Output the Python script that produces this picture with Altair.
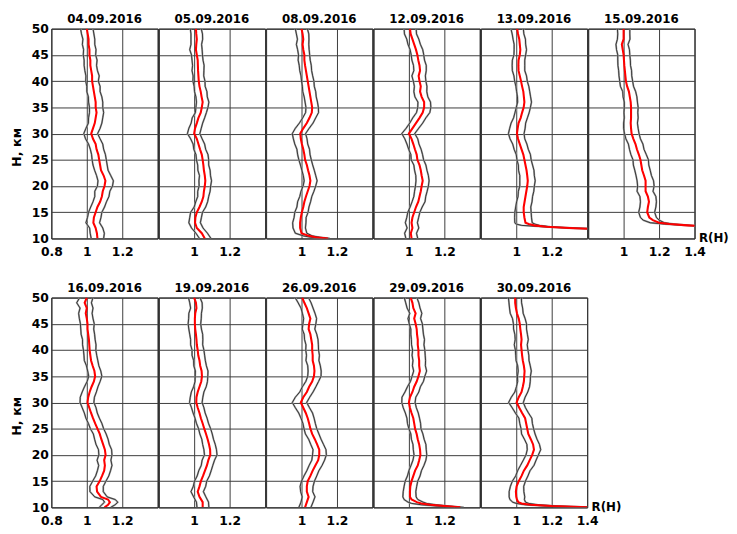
import altair as alt
import pandas as pd

# ---------------- data ----------------
TITLES = ["04.09.2016", "05.09.2016", "08.09.2016", "12.09.2016", "13.09.2016", "15.09.2016",
          "16.09.2016", "19.09.2016", "26.09.2016", "29.09.2016", "30.09.2016"]

H_STD = [10, 11, 12, 13, 14, 15, 16, 17, 18, 19, 20, 21, 22, 23, 24, 25, 26, 27, 28, 29, 30,
         31, 32, 33, 34, 35, 36, 37, 38, 39, 40, 41, 42, 43, 44, 45, 46, 47, 48, 49, 50]

# 04.09.2016
R_0409 = [1.060, 1.057, 1.050, 1.037, 1.040, 1.050, 1.060, 1.075, 1.085, 1.090, 1.100, 1.105, 1.095, 1.080, 1.075, 1.070, 1.065, 1.055, 1.050, 1.035, 1.025, 1.035, 1.045, 1.050, 1.055, 1.050, 1.050, 1.045, 1.040, 1.035, 1.030, 1.030, 1.025, 1.020, 1.020, 1.015, 1.015, 1.010, 1.010, 1.005, 1.000]
DLO_0409 = [35, 38, 34, 42, 36, 40, 38, 40, 40, 45, 40, 42, 40, 36, 40, 40, 38, 35, 40, 42, 42, 40, 36, 40, 40, 35, 40, 36, 40, 35, 36, 35, 36, 35, 35, 35, 33, 35, 32, 35, 35]
DHI_0409 = [35, 42, 40, 35, 40, 35, 40, 36, 40, 40, 45, 45, 40, 40, 40, 40, 40, 40, 40, 40, 36, 40, 40, 40, 40, 40, 40, 40, 35, 40, 35, 40, 35, 35, 38, 35, 37, 35, 35, 35, 35]

# 05.09.2016
R_0509 = [1.060, 1.043, 1.015, 1.005, 1.007, 1.015, 1.030, 1.043, 1.052, 1.055, 1.060, 1.063, 1.060, 1.055, 1.052, 1.048, 1.043, 1.033, 1.024, 1.015, 1.000, 1.005, 1.015, 1.024, 1.037, 1.043, 1.048, 1.042, 1.037, 1.030, 1.026, 1.024, 1.022, 1.021, 1.020, 1.015, 1.010, 1.012, 1.015, 1.012, 1.010]
DLO_0509 = [30, 33, 30, 35, 32, 35, 30, 34, 32, 35, 32, 36, 30, 34, 32, 35, 33, 35, 30, 35, 38, 35, 32, 35, 30, 33, 35, 32, 35, 30, 33, 30, 34, 30, 32, 30, 35, 30, 33, 30, 32]
DHI_0509 = [35, 32, 35, 30, 34, 32, 35, 33, 30, 35, 33, 35, 32, 35, 30, 34, 35, 32, 35, 30, 32, 35, 33, 35, 32, 35, 35, 32, 35, 32, 35, 30, 33, 35, 30, 32, 35, 30, 33, 35, 30]

# 08.09.2016
H_0809 = [10, 10.25, 10.5, 11, 12, 13, 14, 15, 16, 17, 18, 19, 20, 21, 22, 23, 24, 25, 26, 27, 28, 29, 30,
          31, 32, 33, 34, 35, 36, 37, 38, 39, 40, 41, 42, 43, 44, 45, 46, 47, 48, 49, 50]
R_0809 = [1.15, 1.08, 1.04, 1.000, 0.992, 0.992, 0.996, 1.002, 1.010, 1.016, 1.025, 1.035, 1.045, 1.050, 1.045, 1.037, 1.030, 1.020, 1.016, 1.010, 1.002, 0.996, 0.993, 1.010, 1.030, 1.045, 1.058, 1.060, 1.055, 1.050, 1.045, 1.040, 1.035, 1.030, 1.025, 1.020, 1.016, 1.016, 1.010, 1.006, 1.010, 1.006, 1.000]
DLO_0809 = [10, 30, 30, 35, 40, 42, 38, 40, 36, 38, 35, 38, 36, 35, 35, 35, 36, 35, 38, 36, 40, 42, 45, 45, 42, 38, 35, 35, 35, 35, 38, 35, 35, 33, 35, 33, 35, 33, 32, 35, 33, 35, 35]
DHI_0809 = [10, 20, 20, 30, 30, 33, 30, 35, 32, 35, 33, 35, 35, 38, 35, 35, 33, 35, 32, 35, 33, 35, 30, 33, 35, 35, 38, 35, 35, 33, 35, 32, 35, 33, 32, 35, 33, 30, 33, 35, 32, 35, 33]

# 12.09.2016
R_1209 = [1.015, 1.011, 1.020, 1.015, 1.020, 1.030, 1.040, 1.053, 1.060, 1.067, 1.072, 1.078, 1.072, 1.067, 1.060, 1.048, 1.044, 1.034, 1.025, 1.015, 1.000, 1.020, 1.040, 1.060, 1.078, 1.086, 1.086, 1.072, 1.063, 1.067, 1.060, 1.055, 1.063, 1.060, 1.053, 1.048, 1.040, 1.030, 1.020, 1.010, 1.006]
DLO_1209 = [32, 35, 30, 35, 32, 36, 33, 35, 32, 35, 35, 38, 33, 35, 32, 35, 33, 35, 36, 38, 40, 36, 35, 38, 35, 36, 35, 38, 35, 36, 35, 38, 35, 34, 36, 35, 33, 35, 32, 35, 33]
DHI_1209 = [35, 32, 36, 33, 35, 32, 35, 38, 35, 36, 38, 36, 38, 35, 36, 35, 33, 35, 32, 35, 33, 35, 38, 36, 40, 38, 36, 35, 38, 35, 36, 38, 35, 38, 35, 36, 38, 35, 36, 33, 35]

# 13.09.2016
H_1309 = [11.5, 11.75, 12, 12.25, 12.5, 12.75, 13, 14, 15, 16, 17, 18, 19, 20, 21, 22, 23, 24, 25, 26, 27, 28, 29, 30,
          31, 32, 33, 34, 35, 36, 37, 38, 39, 40, 41, 42, 43, 44, 45, 46, 47, 48, 49, 50]
R_1309 = [1.80, 1.50, 1.30, 1.17, 1.10, 1.07, 1.052, 1.046, 1.042, 1.042, 1.047, 1.052, 1.057, 1.062, 1.065, 1.062, 1.058, 1.052, 1.046, 1.040, 1.030, 1.020, 1.010, 1.004, 1.008, 1.013, 1.025, 1.033, 1.042, 1.046, 1.043, 1.040, 1.033, 1.027, 1.020, 1.013, 1.012, 1.013, 1.020, 1.023, 1.020, 1.017, 1.010, 1.005]
DLO_1309 = [20, 20, 20, 30, 70, 70, 60, 55, 50, 45, 45, 42, 45, 42, 45, 42, 45, 40, 42, 40, 42, 40, 45, 48, 45, 42, 40, 40, 42, 38, 36, 38, 35, 36, 33, 35, 35, 35, 33, 35, 32, 35, 33, 35]
DHI_1309 = [20, 20, 20, 20, 30, 35, 38, 40, 42, 40, 42, 40, 42, 40, 42, 40, 42, 40, 38, 40, 38, 40, 38, 40, 42, 40, 38, 40, 38, 40, 38, 36, 38, 35, 38, 35, 36, 35, 33, 35, 33, 35, 33, 35]

# 15.09.2016
H_1509 = [12, 12.25, 12.5, 12.75, 13, 13.5, 14, 15, 16, 17, 18, 19, 20, 21, 22, 23, 24, 25, 26, 27, 28, 29, 30,
          31, 32, 33, 34, 35, 36, 37, 38, 39, 40, 41, 42, 43, 44, 45, 46, 47, 48, 49, 50]
R_1509 = [1.70, 1.50, 1.36, 1.26, 1.20, 1.165, 1.145, 1.133, 1.137, 1.143, 1.137, 1.124, 1.124, 1.124, 1.115, 1.105, 1.100, 1.095, 1.086, 1.075, 1.067, 1.055, 1.045, 1.042, 1.040, 1.042, 1.042, 1.042, 1.040, 1.035, 1.030, 1.020, 1.013, 1.010, 1.007, 1.004, 1.002, 1.000, 0.995, 0.990, 1.000, 1.000, 1.000]
DLO_1509 = [10, 10, 20, 30, 50, 55, 50, 48, 45, 48, 45, 48, 45, 48, 45, 42, 45, 42, 45, 42, 40, 42, 40, 42, 40, 38, 40, 38, 36, 38, 35, 38, 35, 36, 35, 36, 35, 33, 35, 33, 35, 33, 35]
DHI_1509 = [10, 10, 20, 20, 30, 35, 40, 42, 45, 42, 45, 42, 48, 45, 42, 45, 42, 45, 42, 40, 42, 40, 42, 40, 38, 40, 38, 40, 38, 40, 38, 36, 38, 36, 38, 35, 36, 35, 38, 35, 36, 35, 35]

# 16.09.2016
H_1609 = [10, 10.5, 11, 11.5, 12, 13, 14, 15, 16, 17, 18, 19, 20, 21, 22, 23, 24, 25, 26, 27, 28, 29, 30,
          31, 32, 33, 34, 35, 36, 37, 38, 39, 40, 41, 42, 43, 44, 45, 46, 47, 48, 49, 50]
R_1609 = [1.100, 1.120, 1.130, 1.120, 1.080, 1.058, 1.055, 1.073, 1.086, 1.098, 1.102, 1.098, 1.106, 1.102, 1.092, 1.082, 1.073, 1.060, 1.047, 1.035, 1.024, 1.014, 1.004, 1.008, 1.016, 1.027, 1.040, 1.047, 1.043, 1.033, 1.024, 1.020, 1.016, 1.014, 1.012, 1.008, 1.004, 1.004, 1.000, 0.994, 1.000, 0.988, 1.000]
DLO_1609 = [30, 35, 30, 30, 35, 40, 38, 40, 36, 38, 35, 40, 38, 36, 40, 38, 36, 40, 38, 40, 38, 40, 42, 45, 42, 40, 38, 36, 38, 35, 38, 36, 35, 38, 36, 40, 38, 40, 42, 40, 38, 45, 40]
DHI_1609 = [35, 40, 45, 40, 35, 35, 38, 35, 38, 36, 40, 38, 36, 38, 35, 38, 36, 35, 38, 36, 35, 38, 36, 35, 38, 36, 35, 38, 36, 35, 38, 36, 35, 38, 35, 36, 35, 38, 35, 36, 35, 38, 35]

# 19.09.2016
R_1909 = [1.048, 1.048, 1.030, 1.020, 1.030, 1.038, 1.050, 1.061, 1.072, 1.080, 1.091, 1.090, 1.084, 1.076, 1.067, 1.057, 1.048, 1.038, 1.030, 1.020, 1.012, 1.013, 1.020, 1.030, 1.040, 1.044, 1.042, 1.034, 1.030, 1.023, 1.020, 1.015, 1.013, 1.010, 1.006, 1.004, 1.004, 1.006, 1.013, 1.010, 1.000]
DLO_1909 = [32, 35, 33, 38, 35, 36, 33, 35, 32, 35, 33, 35, 36, 33, 35, 32, 35, 33, 36, 35, 38, 35, 36, 33, 35, 38, 35, 36, 33, 35, 32, 35, 33, 35, 36, 38, 35, 36, 33, 35, 32]
DHI_1909 = [35, 33, 36, 32, 35, 33, 36, 35, 33, 35, 38, 36, 35, 33, 35, 36, 33, 35, 32, 35, 33, 36, 35, 38, 35, 33, 36, 35, 33, 36, 35, 33, 36, 38, 35, 33, 36, 35, 33, 35, 33]

# 26.09.2016
R_2609 = [1.020, 1.030, 1.040, 1.030, 1.030, 1.035, 1.050, 1.063, 1.078, 1.094, 1.100, 1.100, 1.088, 1.075, 1.060, 1.050, 1.043, 1.035, 1.024, 1.010, 0.996, 1.010, 1.030, 1.043, 1.060, 1.070, 1.073, 1.070, 1.063, 1.063, 1.060, 1.060, 1.055, 1.050, 1.040, 1.043, 1.050, 1.040, 1.030, 1.016, 1.004]
DLO_2609 = [35, 33, 36, 35, 38, 35, 36, 33, 35, 36, 38, 35, 36, 35, 38, 36, 35, 38, 40, 45, 48, 45, 40, 38, 36, 35, 36, 35, 38, 35, 36, 35, 38, 35, 36, 35, 38, 35, 33, 35, 40]
DHI_2609 = [33, 35, 36, 33, 35, 38, 36, 35, 38, 36, 40, 38, 36, 35, 38, 36, 35, 36, 38, 35, 33, 36, 35, 38, 36, 40, 38, 36, 35, 38, 36, 35, 38, 36, 35, 38, 35, 36, 35, 38, 35]

# 29.09.2016
H_2909 = [10, 10.25, 10.5, 10.75, 11, 11.5, 12, 13, 14, 15, 16, 17, 18, 19, 20, 21, 22, 23, 24, 25, 26, 27, 28, 29, 30,
          31, 32, 33, 34, 35, 36, 37, 38, 39, 40, 41, 42, 43, 44, 45, 46, 47, 48, 49, 50]
R_2909 = [1.29, 1.20, 1.12, 1.07, 1.045, 1.015, 1.006, 1.006, 1.008, 1.015, 1.025, 1.035, 1.050, 1.058, 1.065, 1.063, 1.058, 1.050, 1.044, 1.035, 1.030, 1.025, 1.015, 1.006, 1.000, 1.006, 1.020, 1.030, 1.044, 1.054, 1.062, 1.058, 1.058, 1.054, 1.054, 1.050, 1.050, 1.046, 1.044, 1.038, 1.030, 1.038, 1.025, 1.020, 1.010]
DLO_2909 = [30, 40, 50, 55, 50, 42, 40, 38, 35, 36, 33, 35, 38, 35, 36, 38, 35, 36, 33, 35, 38, 36, 35, 38, 40, 45, 42, 38, 35, 36, 35, 38, 35, 36, 33, 35, 36, 35, 33, 36, 35, 33, 35, 38, 36]
DHI_2909 = [20, 30, 30, 30, 35, 35, 35, 33, 36, 35, 38, 36, 35, 38, 36, 35, 38, 36, 35, 33, 36, 35, 38, 36, 35, 33, 36, 35, 38, 36, 38, 35, 36, 38, 36, 35, 38, 36, 35, 38, 36, 35, 38, 36, 35]

# 30.09.2016
H_3009 = [10, 10.25, 10.5, 10.75, 11, 11.5, 12, 13, 14, 15, 16, 17, 18, 19, 20, 21, 22, 23, 24, 25, 26, 27, 28, 29, 30,
          31, 32, 33, 34, 35, 36, 37, 38, 39, 40, 41, 42, 43, 44, 45, 46, 47, 48, 49, 50]
R_3009 = [1.42, 1.20, 1.08, 1.03, 1.012, 1.004, 1.000, 0.998, 1.002, 1.014, 1.030, 1.043, 1.062, 1.076, 1.090, 1.100, 1.095, 1.082, 1.068, 1.062, 1.056, 1.050, 1.033, 1.017, 1.002, 1.014, 1.030, 1.037, 1.043, 1.045, 1.047, 1.043, 1.037, 1.033, 1.030, 1.027, 1.030, 1.027, 1.023, 1.020, 1.014, 1.004, 0.998, 0.994, 0.994]
DLO_3009 = [10, 30, 30, 30, 32, 40, 40, 38, 35, 36, 33, 35, 38, 36, 35, 38, 35, 36, 38, 35, 36, 35, 38, 40, 45, 42, 38, 36, 35, 38, 36, 35, 38, 36, 35, 38, 36, 35, 38, 36, 35, 38, 36, 35, 38]
DHI_3009 = [10, 40, 40, 40, 40, 42, 48, 45, 40, 38, 36, 35, 38, 36, 35, 38, 36, 35, 38, 36, 35, 38, 36, 35, 38, 36, 35, 38, 36, 35, 38, 36, 35, 38, 36, 35, 38, 36, 35, 38, 36, 35, 38, 36, 35]

HEIGHTS = [H_STD, H_STD, H_0809, H_STD, H_1309, H_1509, H_1609, H_STD, H_STD, H_2909, H_3009]
RVALS = [R_0409, R_0509, R_0809, R_1209, R_1309, R_1509, R_1609, R_1909, R_2609, R_2909, R_3009]
DLOS = [DLO_0409, DLO_0509, DLO_0809, DLO_1209, DLO_1309, DLO_1509, DLO_1609, DLO_1909, DLO_2609, DLO_2909, DLO_3009]
DHIS = [DHI_0409, DHI_0509, DHI_0809, DHI_1209, DHI_1309, DHI_1509, DHI_1609, DHI_1909, DHI_2609, DHI_2909, DHI_3009]

X_TICKS = [0.8, 1.0, 1.2, 1.4]
Y_TICKS = [10, 15, 20, 25, 30, 35, 40, 45, 50]

PW, PH = 108, 213
FONT = "DejaVu Sans"
LABEL_SIZE = 12.5


def panel(i, first, last):
    H, R, dlo, dhi = HEIGHTS[i], RVALS[i], DLOS[i], DHIS[i]
    n = len(H)
    assert len(R) == n and len(dlo) == n and len(dhi) == n, (TITLES[i], n, len(R), len(dlo), len(dhi))
    lo = [r - d / 1000.0 for r, d in zip(R, dlo)]
    hi = [r + d / 1000.0 for r, d in zip(R, dhi)]
    df = pd.DataFrame({
        "H": list(H) * 3,
        "v": list(R) + lo + hi,
        "s": ["R"] * n + ["lo"] * n + ["hi"] * n,
    })
    if first:
        lexpr = "datum.value < 1.3 ? datum.label : ''"
    elif last:
        lexpr = "datum.value > 0.9 ? datum.label : ''"
    else:
        lexpr = "(datum.value > 0.9 && datum.value < 1.3) ? datum.label : ''"
    xaxis_kw = dict(values=X_TICKS, format="~g", labelExpr=lexpr, labelFlush=False,
                    labelOverlap=False, labelPadding=7, grid=True)
    if last:
        xaxis_kw.update(title="R(H)", titleX=PW + 4, titleY=-1, titleAlign="left",
                        titleBaseline="middle", titleAngle=0, titleFontSize=12)
    else:
        xaxis_kw.update(title=None)
    if first:
        yaxis = alt.Axis(values=Y_TICKS, grid=True, title="H, км", labelPadding=3,
                         titlePadding=8, titleY=120, titleFontSize=13)
    else:
        yaxis = alt.Axis(values=Y_TICKS, grid=True, labels=False, title=None)
    base = alt.Chart(df).encode(
        x=alt.X("v:Q", scale=alt.Scale(domain=[0.8, 1.4], nice=False, zero=False),
                axis=alt.Axis(**xaxis_kw)),
        y=alt.Y("H:Q", scale=alt.Scale(domain=[10, 50], nice=False, zero=False), axis=yaxis),
        order=alt.Order("H:Q"),
    )
    band = base.transform_filter("datum.s != 'R'")
    halo = band.mark_line(color="#a6a6a6", strokeWidth=1.9, clip=True).encode(detail="s:N")
    core = band.mark_line(color="#1a1a1a", strokeWidth=0.8, clip=True).encode(detail="s:N")
    red = base.transform_filter("datum.s == 'R'").mark_line(color="#ff0000", strokeWidth=2.1, clip=True)
    # the first panel's "50" label sticks up above the plot by half a label height
    toff = 3 - LABEL_SIZE / 2 if first else 3
    return alt.layer(halo, core, red).properties(
        width=PW, height=PH,
        title=alt.TitleParams(TITLES[i], anchor="middle", fontSize=12, fontWeight="bold", font=FONT, offset=toff),
    )


row1 = alt.hconcat(*[panel(i, i == 0, i == 5) for i in range(6)], spacing=-1)
row2 = alt.hconcat(*[panel(i, i == 6, i == 10) for i in range(6, 11)], spacing=-1)

chart = alt.vconcat(row1, row2, spacing=23).properties(
    padding={"left": 2, "top": 0, "right": 0, "bottom": 0}
).configure_view(
    stroke="#000000", strokeWidth=1
).configure_axis(
    gridColor="#3c3c3c", gridWidth=1, gridOpacity=1, domain=False, ticks=False,
    labelFont=FONT, labelFontWeight="bold", labelFontSize=LABEL_SIZE, labelColor="#000000",
    titleFont=FONT, titleFontWeight="bold", titleColor="#000000",
).configure_title(color="#000000")

chart.save("out.html", embed_options={"renderer": "svg", "actions": False})
